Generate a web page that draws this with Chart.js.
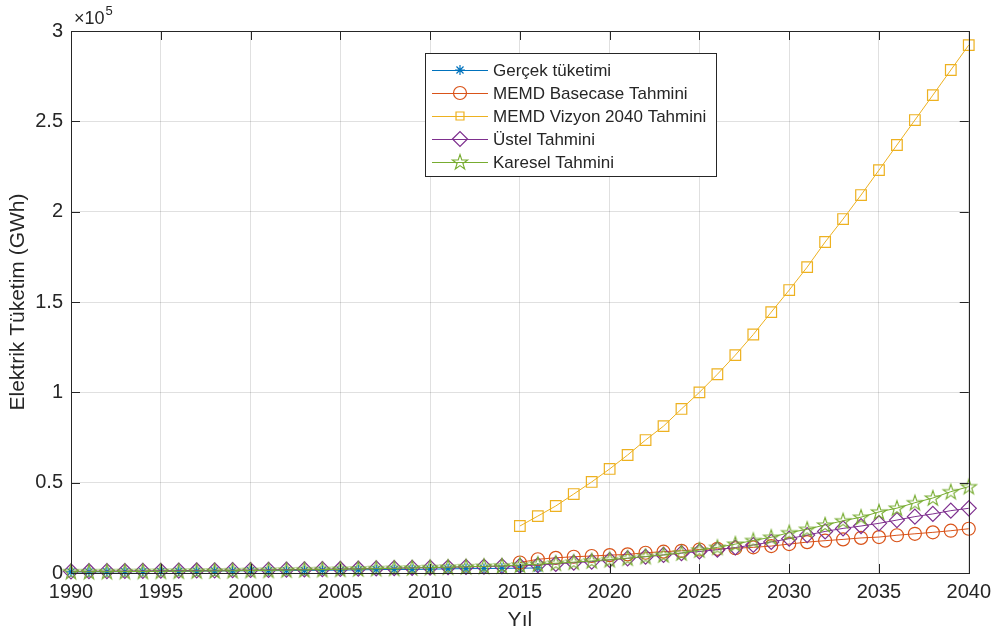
<!DOCTYPE html>
<html><head><meta charset="utf-8">
<script src="https://cdn.jsdelivr.net/npm/chart.js@4.4.0/dist/chart.umd.min.js"></script>
<style>html,body{margin:0;padding:0;background:#fff}#wrap{width:998px;height:635px}</style>
</head><body><div id="wrap"><canvas id="c" width="998" height="635"></canvas></div>
<script>
// ---------- DATA ----------
const seriesNames = ["Gerçek tüketimi", "MEMD Basecase Tahmini", "MEMD Vizyon 2040 Tahmini", "Üstel Tahmini", "Karesel Tahmini"];

const fitYears = [1990,1991,1992,1993,1994,1995,1996,1997,1998,1999,2000,2001,2002,2003,2004,2005,2006,2007,2008,2009,2010,2011,2012,2013,2014,2015,2016,2017,2018,2019,2020,2021,2022,2023,2024,2025,2026,2027,2028,2029,2030,2031,2032,2033,2034,2035,2036,2037,2038,2039,2040];
const actualYears = [1990,1991,1992,1993,1994,1995,1996,1997,1998,1999,2000,2001,2002,2003,2004,2005,2006,2007,2008,2009,2010,2011,2012,2013,2014,2015,2016];
const forecastYears = [2015,2016,2017,2018,2019,2020,2021,2022,2023,2024,2025,2026,2027,2028,2029,2030,2031,2032,2033,2034,2035,2036,2037,2038,2039,2040];

const gercek = [568,605,672,734,778,856,948,1055,1140,1185,1283,1269,1326,1412,1500,1608,1746,1900,1981,1941,2104,2303,2424,2464,2572,2657,2793];
const basecase = [5800,7600,8400,9000,9400,9900,10300,11200,11800,12300,13000,13400,13700,14200,14900,16000,17100,17900,18600,19400,19900,20900,21700,22500,23400,24500];
const vizyon = [26000,31500,37100,43700,50400,57600,65300,73600,81300,90800,100000,110000,120600,132000,144400,156600,169300,183200,195900,209200,223000,236900,250700,264500,278400,292200];
const ustel = [930,990,1050,1110,1180,1250,1320,1400,1490,1580,1670,1770,1880,1990,2110,2240,2370,2520,2670,2830,3000,3180,3370,3570,3780,4000,4400,5000,5700,6300,7200,8100,9000,10000,11000,11900,12900,14100,15500,17200,19000,21000,23000,24700,26000,27500,29300,31200,32700,34500,35800];
const karesel = [700,720,750,790,840,900,970,1050,1140,1240,1350,1470,1600,1740,1890,2050,2220,2400,2590,2790,3000,3220,3450,3690,3940,4400,4900,5400,6000,6700,7400,8200,9100,10000,11100,12700,14200,16000,18000,19800,22300,24200,26600,28900,30900,33800,35900,38900,41500,45000,47800];

const xTicks = [1990,1995,2000,2005,2010,2015,2020,2025,2030,2035,2040];
const yTicks = [0,50000,100000,150000,200000,250000,300000];

// ---------- STYLE ----------
const FONT = '"Liberation Sans", Arial, Helvetica, sans-serif';
const TXT = '#262626';

function pentagram(color, R) {
  const s = Math.ceil(R * 2 + 4);
  const cv = document.createElement('canvas');
  cv.width = s; cv.height = s;
  const g = cv.getContext('2d');
  const cx = s / 2, cy = s / 2 + 0.5, r = R * 0.382;
  g.beginPath();
  for (let i = 0; i < 10; i++) {
    const ang = -Math.PI / 2 + i * Math.PI / 5;
    const rr = i % 2 === 0 ? R : r;
    const px = cx + rr * Math.cos(ang), py = cy + rr * Math.sin(ang);
    if (i === 0) g.moveTo(px, py); else g.lineTo(px, py);
  }
  g.closePath();
  g.strokeStyle = color; g.lineWidth = 1.1; g.stroke();
  return cv;
}
const starImg = pentagram('#77AC30', 8);

const toPts = (xs, ys) => xs.map((x, i) => ({x: x, y: ys[i]}));

const dsStyle = [
  {color: '#0072BD', pointStyle: 'star', radius: 5},
  {color: '#D95319', pointStyle: 'circle', radius: 6.5},
  {color: '#EDB120', pointStyle: 'rect', radius: 7.5},
  {color: '#7E2F8E', pointStyle: 'rectRot', radius: 7.5},
  {color: '#77AC30', pointStyle: starImg, radius: 8}
];
const dsData = [toPts(actualYears, gercek), toPts(forecastYears, basecase), toPts(forecastYears, vizyon), toPts(fitYears, ustel), toPts(fitYears, karesel)];

const datasets = dsData.map((d, i) => ({
  label: seriesNames[i],
  data: d,
  borderColor: dsStyle[i].color,
  backgroundColor: 'rgba(0,0,0,0)',
  pointBorderColor: dsStyle[i].color,
  pointBackgroundColor: 'rgba(0,0,0,0)',
  pointStyle: dsStyle[i].pointStyle,
  pointRadius: dsStyle[i].radius,
  pointBorderWidth: 1.2,
  borderWidth: 1,
  tension: 0,
  fill: false,
  clip: false,
  order: 4 - i
}));

const decor = {
  id: 'decor',
  afterDraw(chart) {
    const ctx = chart.ctx, a = chart.chartArea;
    const xs = chart.scales.x, ys = chart.scales.y;
    ctx.save();
    // box
    ctx.strokeStyle = TXT; ctx.lineWidth = 1;
    ctx.strokeRect(Math.round(a.left) + 0.5, Math.round(a.top) + 0.5, Math.round(a.right - a.left), Math.round(a.bottom - a.top));
    // inward ticks
    ctx.beginPath();
    xTicks.forEach(v => {
      const p = Math.round(xs.getPixelForValue(v)) + 0.5;
      ctx.moveTo(p, a.bottom); ctx.lineTo(p, a.bottom - 9);
      ctx.moveTo(p, a.top); ctx.lineTo(p, a.top + 9);
    });
    yTicks.forEach(v => {
      const p = Math.round(ys.getPixelForValue(v)) + 0.5;
      ctx.moveTo(a.left, p); ctx.lineTo(a.left + 9, p);
      ctx.moveTo(a.right, p); ctx.lineTo(a.right - 9, p);
    });
    ctx.stroke();
    // exponent label
    ctx.fillStyle = TXT;
    ctx.textBaseline = 'alphabetic'; ctx.textAlign = 'left';
    ctx.font = '18px ' + FONT;
    ctx.fillText('×10', a.left + 3, a.top - 7);
    const w = ctx.measureText('×10').width;
    ctx.font = '13px ' + FONT;
    ctx.fillText('5', a.left + 4 + w, a.top - 16);
    // axis titles
    ctx.font = '21px ' + FONT;
    ctx.textAlign = 'center'; ctx.textBaseline = 'middle';
    ctx.fillText('Yıl', (a.left + a.right) / 2, 620);
    ctx.save();
    ctx.translate(18, (a.top + a.bottom) / 2);
    ctx.rotate(-Math.PI / 2);
    ctx.fillText('Elektrik Tüketim (GWh)', 0, 0);
    ctx.restore();
    // legend
    const L = 425.5, T = 53.5, W = 291, H = 123;
    ctx.fillStyle = '#fff';
    ctx.fillRect(L, T, W, H);
    ctx.strokeStyle = TXT; ctx.lineWidth = 1;
    ctx.strokeRect(L, T, W, H);
    chart.data.datasets.forEach((ds, i) => {
      const y = 70 + 23 * i;
      ctx.strokeStyle = ds.borderColor; ctx.lineWidth = 1;
      ctx.beginPath(); ctx.moveTo(432, y + 0.5); ctx.lineTo(488, y + 0.5); ctx.stroke();
      ctx.lineWidth = 1.2;
      ctx.fillStyle = 'rgba(0,0,0,0)';
      ctx.strokeStyle = ds.borderColor;
      Chart.helpers.drawPoint(ctx, {pointStyle: ds.pointStyle, radius: ds.pointRadius * (i === 2 ? 0.75 : 1), rotation: 0, borderWidth: 1.2}, 460, y);
      ctx.fillStyle = TXT; ctx.font = '17px ' + FONT;
      ctx.textAlign = 'left'; ctx.textBaseline = 'middle';
      ctx.fillText(ds.label, 493, y + 1);
    });
    ctx.restore();
  }
};

new Chart(document.getElementById('c'), {
  type: 'line',
  data: {datasets: datasets},
  options: {
    responsive: false,
    animation: false,
    events: [],
    layout: {padding: {left: 0, top: 31, right: 29, bottom: 0}},
    plugins: {legend: {display: false}, tooltip: {enabled: false}},
    scales: {
      x: {
        type: 'linear', min: 1990, max: 2040,
        afterBuildTicks: s => { s.ticks = xTicks.map(v => ({value: v})); },
        afterFit: s => { s.height = 62; },
        grid: {color: 'rgba(0,0,0,0.12)', lineWidth: 1, drawTicks: false},
        border: {display: false},
        ticks: {color: TXT, font: {family: FONT, size: 20}, padding: 7, maxRotation: 0, callback: v => String(v)}
      },
      y: {
        type: 'linear', min: 0, max: 300000,
        afterBuildTicks: s => { s.ticks = yTicks.map(v => ({value: v})); },
        afterFit: s => { s.width = 71; },
        grid: {color: 'rgba(0,0,0,0.12)', lineWidth: 1, drawTicks: false},
        border: {display: false},
        ticks: {color: TXT, font: {family: FONT, size: 20}, padding: 8, callback: v => String(v / 100000)}
      }
    }
  },
  plugins: [decor]
});
</script>
</body></html>
